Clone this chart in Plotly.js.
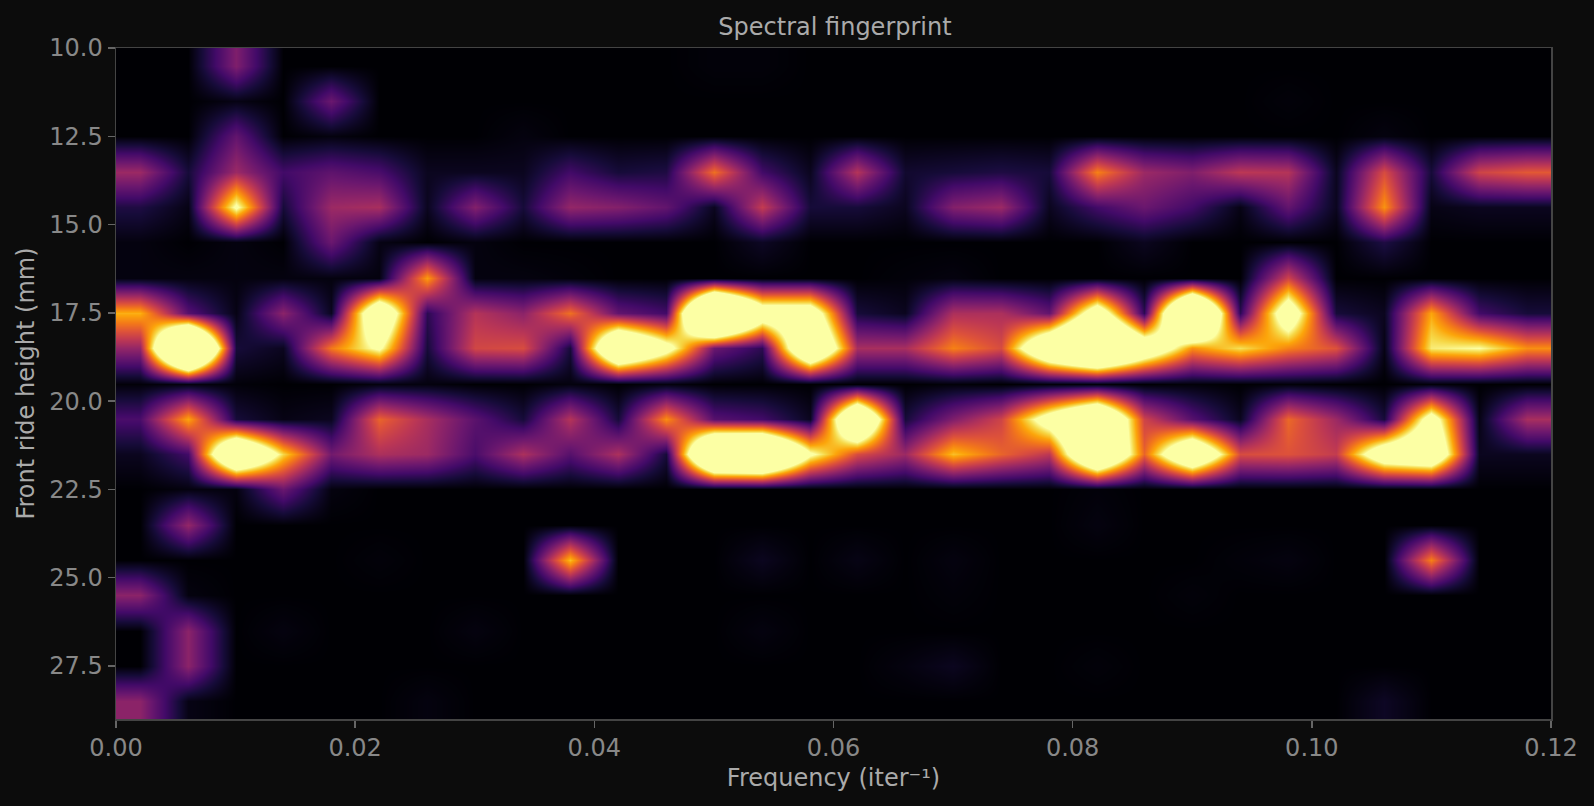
<!DOCTYPE html>
<html><head><meta charset="utf-8">
<script src="https://cdn.plot.ly/plotly-3.0.1.min.js"></script>
<style>html,body{margin:0;padding:0;background:#0c0c0c}</style></head>
<body><div id="chart" style="width:1594px;height:806px"></div>
<script>
const frequencies=[.002,.006,.010,.014,.018,.022,.026,.030,.034,.038,.042,.046,.050,.054,.058,.062,.066,.070,.074,.078,.082,.086,.090,.094,.098,.102,.106,.110,.114,.118];
const heights=[10.5,11.5,12.5,13.5,14.5,15.5,16.5,17.5,18.5,19.5,20.5,21.5,22.5,23.5,24.5,25.5,26.5,27.5,28.5];
const r105=[0,0,.35,0,0,0,0,0,0,0,0,0,.01,.01,0,0,0,0,0,0,0,0,0,0,0,0,0,0,0,0];
const r115=[0,0,.03,0,.30,0,0,0,0,0,0,0,0,0,0,0,0,0,0,0,0,0,0,0,.01,0,0,0,0,0];
const r125=[0,0,.28,0,.02,0,0,0,.02,0,0,0,0,0,0,0,0,0,0,0,0,0,0,0,0,0,.02,0,0,0];
const r135=[.42,.10,.42,.20,.27,.22,.05,.05,.05,.20,.10,.12,.68,.20,.05,.48,.08,.10,.12,.10,.72,.42,.35,.50,.48,.05,.58,.10,.55,.62];
const r145=[.12,.03,1.05,.10,.42,.45,.05,.36,.10,.40,.36,.28,.05,.52,.10,.10,.05,.36,.42,.05,.20,.30,.20,.03,.28,.05,.76,.03,.05,.05];
const r155=[.02,0,.02,0,.30,.03,0,.02,0,0,0,0,0,.06,0,0,0,0,0,0,0,.05,0,0,0,0,.12,0,0,0];
const r165=[.02,.02,.02,.02,.02,.02,.78,.02,.02,.01,0,0,0,0,0,0,.01,.02,0,0,0,0,0,0,.55,0,0,0,0,0];
const r175=[.82,.25,.03,.38,.05,1.5,.15,.48,.38,.68,.28,.20,2.6,1.3,1.3,.10,.05,.46,.46,.28,1.3,.15,2.3,.15,1.3,.10,.05,.80,.20,.10];
const r185=[.40,2.6,.10,.05,.70,1.05,.10,.56,.58,.10,1.8,1.15,.30,.15,1.7,.45,.45,.72,.58,1.6,2.2,1.4,.75,.92,.72,.60,.03,.95,1.0,.75];
const r195=[.01,.02,.01,0,0,.02,.02,0,0,.02,0,.02,0,0,0,0,0,.01,0,.01,.01,0,.01,0,.01,0,0,.01,0,0];
const r205=[.22,.80,.10,.03,.05,.65,.45,.26,.10,.48,.10,.75,.25,.20,.05,1.8,.10,.35,.55,1.2,1.8,.55,.25,.05,.66,.42,.10,1.2,.03,.45];
const r215=[.05,.20,1.8,.90,.32,.46,.42,.22,.46,.25,.46,.10,2.1,2.2,1.05,.58,.42,.85,.65,.50,1.8,.65,1.6,.58,.60,.52,1.35,1.5,.05,.05];
const r225=[0,.02,.02,.30,.02,0,0,0,0,0,0,0,0,0,0,0,0,0,0,0,.01,0,0,0,0,0,0,0,0,0];
const r235=[0,.40,0,0,0,0,0,0,0,0,0,0,0,0,0,0,0,0,0,0,.02,0,0,0,0,0,0,0,0,0];
const r245=[0,0,0,0,0,.01,0,0,0,.85,0,0,0,.05,0,.03,0,.02,0,0,0,0,0,.01,.02,0,0,.72,0,0];
const r255=[.38,.02,0,0,0,0,0,0,0,0,0,0,0,0,0,0,0,.01,0,0,0,0,.01,0,0,0,0,0,0,0];
const r265=[0,.38,0,.02,0,0,0,.02,0,0,0,0,0,.02,0,0,0,0,0,0,0,0,0,0,0,0,0,0,0,0];
const r275=[0,.38,0,0,0,0,0,0,0,0,0,0,0,0,0,0,.02,.05,0,0,.01,0,0,0,0,0,0,0,0,0];
const r285=[.38,.03,0,0,0,0,.02,0,0,0,0,0,0,0,0,0,0,0,0,0,0,0,0,0,0,0,.06,0,0,0];
const spectrum=[r105,r115,r125,r135,r145,r155,r165,r175,r185,r195,r205,r215,r225,r235,r245,r255,r265,r275,r285];
const xTicks=[0,.02,.04,.06,.08,.10,.12];
const xLabels=['0.00','0.02','0.04','0.06','0.08','0.10','0.12'];
const yTicks=[10,12.5,15,17.5,20,22.5,25,27.5];
const yLabels=['10.0','12.5','15.0','17.5','20.0','22.5','25.0','27.5'];
const inferno=[[0,'#000004'],[.1,'#160b39'],[.2,'#420a68'],[.3,'#6a176e'],[.4,'#932667'],[.5,'#bc3754'],[.6,'#dd513a'],[.7,'#f37819'],[.8,'#fca50a'],[.9,'#f6d746'],[1,'#fcffa4']];
const fnt='"DejaVu Sans",sans-serif';
const axisBase={showgrid:false,zeroline:false,showline:true,linecolor:'#444',linewidth:1.5,mirror:true,ticks:'outside',ticklen:7,tickwidth:1.5,tickcolor:'#666',tickfont:{family:fnt,size:24,color:'#888'},tickmode:'array'};
Plotly.newPlot('chart',[{type:'heatmap',x:frequencies,y:heights,z:spectrum,zmin:0,zmax:1,zsmooth:'best',colorscale:inferno,showscale:false}],{
  width:1594,height:806,paper_bgcolor:'#0c0c0c',plot_bgcolor:'#000004',
  margin:{l:116,r:43,t:48,b:87},
  title:{text:'Spectral fingerprint',font:{family:fnt,size:24,color:'#aaa'},x:(116+719)/1594,xanchor:'center',y:0.967,yanchor:'middle'},
  xaxis:Object.assign({},axisBase,{range:[0,.12],tickvals:xTicks,ticktext:xLabels,title:{text:'Frequency (iter⁻¹)',font:{family:fnt,size:24,color:'#aaa'},standoff:8}}),
  yaxis:Object.assign({},axisBase,{range:[29,10],tickvals:yTicks,ticktext:yLabels,title:{text:'Front ride height (mm)',font:{family:fnt,size:24,color:'#aaa'},standoff:8}})
},{staticPlot:true,displayModeBar:false});
</script></body></html>
